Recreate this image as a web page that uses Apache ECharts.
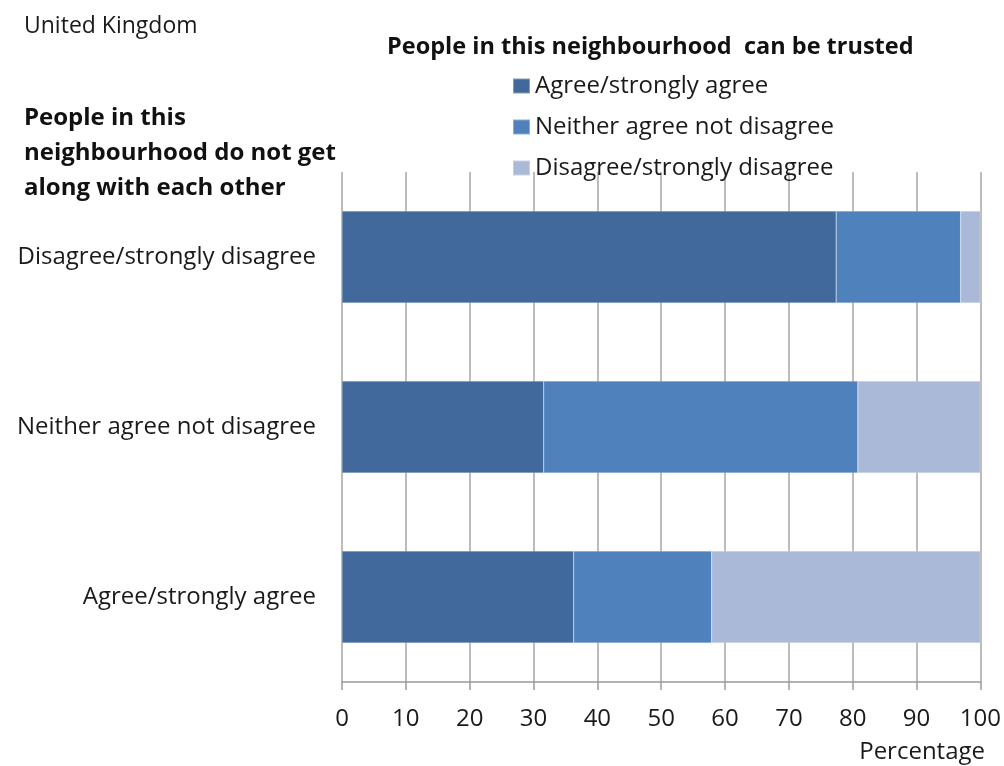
<!DOCTYPE html>
<html>
<head>
<meta charset="utf-8">
<script src="https://cdn.jsdelivr.net/npm/echarts@6/dist/echarts.min.js"></script>
<style>html,body{margin:0;padding:0;background:#fff}#c{width:1004px;height:766px}</style>
</head>
<body>
<div id="c"></div>
<script>
const categories = ['Disagree/strongly disagree', 'Neither agree not disagree', 'Agree/strongly agree'];
const seriesNames = ['Agree/strongly agree', 'Neither agree not disagree', 'Disagree/strongly disagree'];
const agreeValues = [77.4, 31.6, 36.3];
const neitherValues = [19.5, 49.2, 21.6];
const disagreeValues = [3.1, 19.2, 42.1];
const xTicks = [0, 10, 20, 30, 40, 50, 60, 70, 80, 90, 100];

const FONT = '"Open Sans", Lato, sans-serif';
const colors = ['#41699b', '#4f81bd', '#aab9d7'];
const valueSets = [agreeValues, neitherValues, disagreeValues];

const chart = echarts.init(document.getElementById('c'));
chart.setOption({
  animation: false,
  textStyle: { fontFamily: FONT },
  grid: { left: 342, right: 22, top: 172, bottom: 84, containLabel: false },
  legend: {
    orient: 'vertical',
    left: 507,
    top: 69,
    itemWidth: 17,
    itemHeight: 15,
    itemGap: 17,
    icon: 'rect',
    data: seriesNames,
    textStyle: { fontSize: 24, color: '#1a1a1a', fontFamily: FONT, padding: [0, 0, 0, 0] }
  },
  xAxis: {
    type: 'value',
    min: xTicks[0],
    max: xTicks[xTicks.length - 1],
    interval: 10,
    axisLine: { show: true, lineStyle: { color: '#9a9a9a', width: 1.5 } },
    axisTick: { show: true, length: 8, lineStyle: { color: '#9a9a9a', width: 1.5 } },
    splitLine: { show: true, lineStyle: { color: '#a6a6a6', width: 1.5 } },
    axisLabel: { fontSize: 24, color: '#1a1a1a', margin: 25, fontFamily: FONT }
  },
  yAxis: {
    type: 'category',
    inverse: true,
    data: categories,
    axisLine: { show: false },
    axisTick: { show: false },
    axisLabel: { fontSize: 24, color: '#1a1a1a', margin: 26, fontFamily: FONT }
  },
  series: seriesNames.map((name, i) => ({
    name: name,
    type: 'bar',
    stack: 'total',
    barWidth: '54%',
    itemStyle: { color: colors[i], borderColor: 'rgba(255,255,255,0.35)', borderWidth: 0.5 },
    data: valueSets[i]
  })),
  graphic: [
    { type: 'text', left: 24, top: 15, style: { text: 'United Kingdom', fontSize: 23, fill: '#1a1a1a', fontFamily: FONT } },
    { type: 'text', left: 387, top: 35, style: { text: 'People in this neighbourhood  can be trusted', fontSize: 23.5, fontWeight: 'bold', fill: '#111', fontFamily: FONT } },
    { type: 'text', left: 24, top: 101, style: { text: 'People in this\nneighbourhood do not get\nalong with each other', fontSize: 24, lineHeight: 35, fontWeight: 'bold', fill: '#111', fontFamily: FONT } },
    { type: 'text', right: 19, top: 740, style: { text: 'Percentage', fontSize: 24, fill: '#1a1a1a', fontFamily: FONT } }
  ]
});
</script>
</body>
</html>
